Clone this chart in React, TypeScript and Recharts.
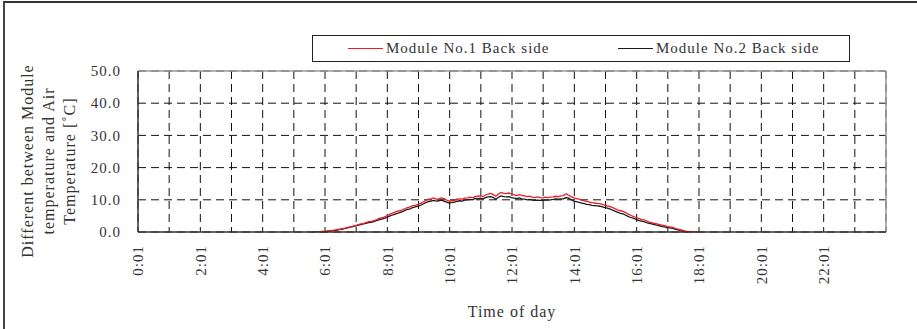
import React from 'react';
import { LineChart, Line, XAxis, YAxis, CartesianGrid, Legend, ReferenceLine } from 'recharts';

const times = [
  "5:35","5:40","5:45","5:50","5:55",
  "6:00","6:05","6:10","6:15","6:20","6:25","6:30","6:35","6:40","6:45","6:50","6:55",
  "7:00","7:05","7:10","7:15","7:20","7:25","7:30","7:35","7:40","7:45","7:50","7:55",
  "8:00","8:05","8:10","8:15","8:20","8:25","8:30","8:35","8:40","8:45","8:50","8:55",
  "9:00","9:05","9:10","9:15","9:20","9:25","9:30","9:35","9:40","9:45","9:50","9:55",
  "10:00","10:05","10:10","10:15","10:20","10:25","10:30","10:35","10:40","10:45","10:50","10:55",
  "11:00","11:05","11:10","11:15","11:20","11:25","11:30","11:35","11:40","11:45","11:50","11:55",
  "12:00","12:05","12:10","12:15","12:20","12:25","12:30","12:35","12:40","12:45","12:50","12:55",
  "13:00","13:05","13:10","13:15","13:20","13:25","13:30","13:35","13:40","13:45","13:50","13:55",
  "14:00","14:05","14:10","14:15","14:20","14:25","14:30","14:35","14:40","14:45","14:50","14:55",
  "15:00","15:05","15:10","15:15","15:20","15:25","15:30","15:35","15:40","15:45","15:50","15:55",
  "16:00","16:05","16:10","16:15","16:20","16:25","16:30","16:35","16:40","16:45","16:50","16:55",
  "17:00","17:05","17:10","17:15","17:20","17:25","17:30","17:35","17:40","17:45","17:50","17:55",
  "18:00"
];

const module1 = [
  0.0, 0.0, 0.1, 0.1, 0.2,
  0.3, 0.3, 0.4, 0.5, 0.6, 0.8, 0.9, 1.1, 1.2, 1.4, 1.6, 1.8,
  2.0, 2.3, 2.5, 2.6, 2.9, 3.2, 3.3, 3.5, 3.8, 4.2, 4.4, 4.6,
  5.0, 5.5, 5.8, 6.1, 6.5, 6.6, 6.9, 7.3, 7.6, 7.8, 8.2, 8.3,
  8.6, 8.9, 9.3, 9.8, 10.2, 10.3, 10.6, 10.2, 10.3, 10.6, 10.4, 9.9,
  9.6, 9.7, 9.8, 10.2, 10.3, 10.2, 10.5, 10.6, 10.8, 10.6, 11.0, 11.1,
  11.2, 11.0, 11.5, 11.8, 12.0, 11.6, 11.1, 11.8, 12.3, 12.0, 11.9, 12.1,
  11.8, 11.5, 11.3, 11.6, 11.4, 11.2, 11.0, 11.1, 10.8, 10.7, 10.9, 10.7,
  10.6, 10.8, 10.7, 10.8, 10.9, 11.1, 11.0, 11.2, 11.3, 11.9, 11.4, 11.0,
  10.6, 10.4, 10.2, 9.9, 9.7, 9.5, 9.3, 9.1, 9.0, 8.9, 8.8, 8.6,
  8.3, 8.1, 7.9, 7.6, 7.2, 6.8, 6.6, 6.4, 6.0, 5.5, 5.2, 4.8,
  4.5, 4.2, 3.9, 3.8, 3.5, 3.1, 2.9, 2.7, 2.5, 2.3, 2.1, 2.0,
  1.7, 1.6, 1.4, 1.1, 0.9, 0.7, 0.5, 0.3, 0.2, 0.1, 0.1, 0.0,
  0.0
];

const module2 = [
  null, null, null, 0.0, 0.1,
  0.1, 0.2, 0.3, 0.4, 0.5, 0.6, 0.8, 0.9, 1.1, 1.3, 1.5, 1.7,
  1.9, 2.1, 2.3, 2.5, 2.7, 2.9, 3.0, 3.2, 3.5, 3.8, 4.0, 4.2,
  4.5, 4.9, 5.2, 5.5, 5.8, 6.0, 6.3, 6.7, 7.0, 7.2, 7.6, 7.8,
  8.0, 8.3, 8.7, 9.1, 9.4, 9.6, 9.8, 9.6, 9.7, 9.9, 9.6, 9.3,
  9.0, 9.1, 9.3, 9.5, 9.7, 9.6, 9.9, 10.0, 10.1, 10.0, 10.4, 10.3,
  10.5, 10.3, 10.7, 10.9, 11.0, 10.7, 10.2, 10.8, 11.2, 11.0, 10.9, 11.0,
  10.7, 10.5, 10.4, 10.6, 10.3, 10.2, 10.0, 10.1, 9.9, 9.8, 9.9, 9.8,
  9.8, 9.9, 9.9, 10.0, 10.1, 10.3, 10.2, 10.3, 10.3, 10.7, 10.5, 10.0,
  9.6, 9.4, 9.2, 9.0, 8.8, 8.6, 8.5, 8.3, 8.2, 8.1, 8.0, 7.8,
  7.6, 7.4, 7.1, 6.8, 6.4, 6.1, 5.8, 5.6, 5.2, 4.8, 4.5, 4.2,
  3.9, 3.6, 3.4, 3.2, 2.9, 2.7, 2.5, 2.3, 2.1, 1.9, 1.7, 1.6,
  1.4, 1.3, 1.1, 0.9, 0.7, 0.4, 0.2, 0.1, 0.0, null, null, null,
  null
];

const seriesNames = ["Module No.1 Back side", "Module No.2 Back side"];
const seriesColors = ["#ee1c24", "#1a1a1a"];
const yTicks = [0, 10, 20, 30, 40, 50];
const hourTicks = [0, 1, 2, 3, 4, 5, 6, 7, 8, 9, 10, 11, 12, 13, 14, 15, 16, 17, 18, 19, 20, 21, 22, 23];
const yTitleLines = ["Different between Module", "temperature and Air", "Temperature [\u02DAC]"];
const xTitle = "Time of day";

// hours elapsed since 0:01 (the first tick)
const toHours = (s: string) => {
  const [h, m] = s.split(':').map(Number);
  return h + (m - 1) / 60;
};

const data = times.map((t, i) => ({ h: toHours(t), m1: module1[i], m2: module2[i] }));

const FONT = '"Liberation Serif", "Times New Roman", serif';
const TEXT = '#333';

const XTick = (props: any) => {
  const { x, y, payload } = props;
  if (payload.value % 2 !== 0) return null;
  const ty = y + 5;
  return (
    <text x={x} y={ty} transform={`rotate(-90, ${x}, ${ty})`} textAnchor="end" dy="0.35em"
      fontSize={15} letterSpacing={1} fill={TEXT} fontFamily={FONT}>
      {`${payload.value}:01`}
    </text>
  );
};

const YTick = (props: any) => {
  const { x, y, payload } = props;
  return (
    <text x={x} y={y} textAnchor="end" dy="0.35em" fontSize={15} letterSpacing={1} fill={TEXT} fontFamily={FONT}>
      {Number(payload.value).toFixed(1)}
    </text>
  );
};

const YTitle = () => {
  const cy = 161;
  const xs = [33, 54, 75];
  return (
    <g>
      {yTitleLines.map((l, i) => (
        <text key={i} x={xs[i]} y={cy} transform={`rotate(-90, ${xs[i]}, ${cy})`} textAnchor="middle"
          fontSize={16} letterSpacing={1} fill={TEXT} fontFamily={FONT}>
          {l}
        </text>
      ))}
    </g>
  );
};

const XTitle = (props: any) => {
  const vb = props.viewBox || {};
  const cx = vb.x + vb.width / 2;
  return (
    <text x={cx} y={317} textAnchor="middle" fontSize={16} letterSpacing={1} fill={TEXT} fontFamily={FONT}>
      {xTitle}
    </text>
  );
};

const LegendBox = () => (
  <div style={{ position: 'relative', width: 538, height: 27, border: '1px solid #222', boxSizing: 'border-box', fontFamily: FONT, fontSize: 15, letterSpacing: 1, color: TEXT }}>
    {seriesNames.map((n, i) => (
      <div key={i} style={{ position: 'absolute', left: i === 0 ? 35 : 305, top: 0, height: 25, display: 'flex', alignItems: 'center', whiteSpace: 'nowrap' }}>
        <span style={{ display: 'inline-block', width: 35, height: 0, borderTop: `1.5px solid ${seriesColors[i]}`, marginRight: 3 }} />
        <span>{n}</span>
      </div>
    ))}
  </div>
);

export default function App() {
  return (
    <div style={{ position: 'absolute', left: 0, top: 0, width: 917, height: 329, background: '#fff', fontFamily: FONT }}>
      <div style={{ position: 'absolute', left: 3, top: 1, width: 914, height: 328, borderTop: '2px solid #333', borderLeft: '2px solid #444', boxSizing: 'border-box' }} />
      <LineChart width={917} height={329} data={data} margin={{ top: 71, right: 31, bottom: 0, left: 0 }} style={{ position: 'absolute', left: 0, top: 0 }}>
        <CartesianGrid stroke="#111" strokeDasharray="8 5" horizontal vertical />
        <XAxis dataKey="h" type="number" domain={[0, 24]} ticks={hourTicks} interval={0} height={70}
          tick={<XTick />} tickLine={false} axisLine={{ stroke: '#333', strokeWidth: 1.5 }} label={<XTitle />} allowDataOverflow />
        <YAxis domain={[0, 50]} ticks={yTicks} width={138} tick={<YTick />} tickLine={false} tickSize={6} tickMargin={11}
          axisLine={{ stroke: '#333', strokeWidth: 1.5 }} label={<YTitle />} />
        <ReferenceLine y={50} stroke="#999" strokeWidth={1.5} />
        <ReferenceLine x={24} stroke="#999" strokeWidth={1.5} />
        <Legend content={<LegendBox />} wrapperStyle={{ position: 'absolute', left: 312, top: 35, width: 538, height: 27 }} />
        <Line type="linear" dataKey="m2" name={seriesNames[1]} stroke={seriesColors[1]} strokeWidth={1.3} dot={false} isAnimationActive={false} connectNulls={false} />
        <Line type="linear" dataKey="m1" name={seriesNames[0]} stroke={seriesColors[0]} strokeWidth={1.3} dot={false} isAnimationActive={false} connectNulls={false} />
      </LineChart>
    </div>
  );
}
